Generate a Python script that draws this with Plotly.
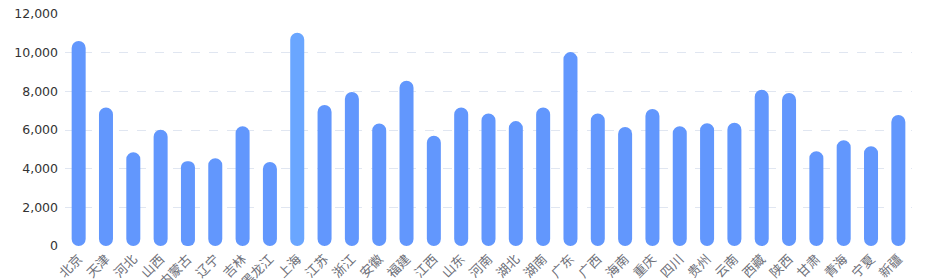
import plotly.graph_objects as go

provinces = ["北京", "天津", "河北", "山西", "内蒙古", "辽宁", "吉林", "黑龙江", "上海", "江苏",
             "浙江", "安徽", "福建", "江西", "山东", "河南", "湖北", "湖南", "广东", "广西",
             "海南", "重庆", "四川", "贵州", "云南", "西藏", "陕西", "甘肃", "青海", "宁夏", "新疆"]
values = [10600, 7160, 4850, 6010, 4380, 4540, 6200, 4350, 11030, 7290,
          7970, 6340, 8550, 5700, 7160, 6850, 6460, 7160, 10030, 6850,
          6160, 7090, 6200, 6350, 6380, 8080, 7920, 4900, 5470, 5160, 6780]
highlight = "上海"

base_color = "#6297fd"
hi_color = "#6aa6ff"
colors = [hi_color if p == highlight else base_color for p in provinces]

# layout geometry
W, H = 930, 280
M_L, M_R, M_T, M_B = 65, 18, 14, 34
Y_MAX = 12000
BAR_PX = 14
cat_px = (W - M_L - M_R) / len(provinces)

fig = go.Figure()
fig.add_trace(go.Bar(x=provinces, y=values, base=[0] * len(values),
                     marker=dict(color=colors, line=dict(width=0), cornerradius=BAR_PX / 2),
                     hovertemplate="%{x}: %{y:,}<extra></extra>",
                     showlegend=False))

fig.update_layout(
    width=W, height=H,
    margin=dict(l=M_L, r=M_R, t=M_T, b=M_B),
    bargap=1 - BAR_PX / cat_px,
    plot_bgcolor="white", paper_bgcolor="white",
    font=dict(family="Noto Sans CJK SC, Noto Sans, sans-serif", size=13, color="#666666"),
    xaxis=dict(tickangle=-45, showgrid=False, showline=False, ticks="", automargin=False,
               range=[-0.5, len(provinces) - 0.5], type="category",
               ticklabelstandoff=2,
               tickfont=dict(family="Noto Sans CJK SC", size=13, color="#6e7079")),
    yaxis=dict(range=[0, Y_MAX], tickvals=[0, 2000, 4000, 6000, 8000, 10000, 12000],
               tickformat=",d", showgrid=True, gridcolor="#e0e6f1", griddash="dash", gridwidth=1,
               zeroline=False, showline=False, ticks="", automargin=False,
               ticklabelstandoff=6,
               tickfont=dict(family="DejaVu Sans", size=12.5, color="#333333")),
)

fig.write_html("out.html")
